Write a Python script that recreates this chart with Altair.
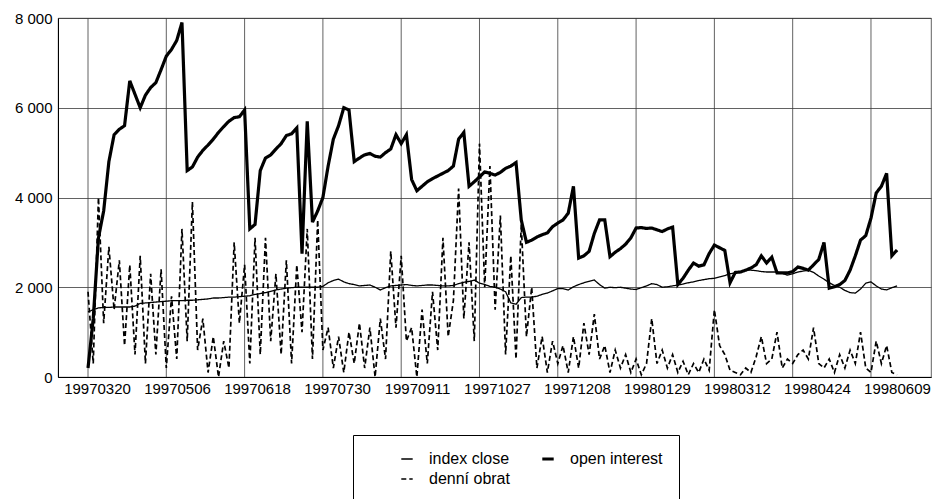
import altair as alt
import pandas as pd

# Trading-day axis labels (one every 30 trading days; samples are every 2nd day)
dates = ["19970320", "19970506", "19970618", "19970730", "19970911", "19971027",
         "19971208", "19980129", "19980312", "19980424", "19980609"]

index_close = [
    1450, 1500, 1540, 1550, 1550, 1560, 1560, 1560, 1560, 1580,
    1640, 1650, 1660, 1670, 1680, 1690, 1700, 1700, 1700, 1710,
    1710, 1720, 1730, 1740, 1760, 1760, 1770, 1780, 1780, 1790,
    1800, 1810, 1840, 1860, 1880, 1910, 1940, 1960, 1980, 1990,
    2000, 2000, 2000, 2000, 2000, 2020, 2100, 2150, 2180, 2120,
    2080, 2060, 2030, 2040, 2050, 2000, 1940, 1990, 2030, 2040,
    2050, 2060, 2040, 2030, 2040, 2050, 2050, 2040, 2030, 2030,
    2040, 2080, 2110, 2130, 2160, 2090, 2060, 2020, 2000, 1960,
    1900, 1650, 1620, 1770, 1780, 1780, 1800, 1840, 1870, 1920,
    1970, 1970, 1940, 2010, 2060, 2100, 2130, 2160, 2060, 1980,
    2000, 1990, 2000, 1980, 1960, 1950, 1990, 2030, 2080, 2060,
    2000, 2010, 2030, 2050, 2070, 2100, 2120, 2150, 2170, 2190,
    2200, 2230, 2260, 2300, 2320, 2340, 2380, 2380, 2370, 2350,
    2340, 2340, 2340, 2310, 2270, 2300, 2340, 2360, 2380, 2330,
    2250, 2180, 2100, 2040, 2000, 1930, 1880, 1870, 1960, 2090,
    2120, 2030, 1960, 1940, 1990, 2030,
]

open_interest = [
    200, 1300, 3100, 3700, 4800, 5400, 5520, 5600, 6600, 6300,
    6000, 6280, 6450, 6560, 6850, 7150, 7300, 7500, 7900, 4600,
    4680, 4900, 5050, 5170, 5300, 5450, 5580, 5700, 5780, 5800,
    5950, 3300, 3400, 4600, 4880, 4950, 5080, 5200, 5380, 5420,
    5550, 2750, 5700, 3450, 3700, 4000, 4700, 5300, 5600, 6000,
    5950, 4800, 4880, 4950, 4980, 4920, 4900, 5000, 5080, 5400,
    5200, 5400, 4400, 4150, 4250, 4350, 4420, 4480, 4540, 4600,
    4700, 5300, 5450, 4250, 4350, 4460, 4570, 4540, 4500, 4560,
    4650, 4700, 4780, 3500, 3000, 3050, 3120, 3170, 3210, 3350,
    3430, 3500, 3650, 4250, 2650, 2700, 2800, 3200, 3500, 3500,
    2680, 2780, 2860, 2960, 3100, 3320, 3330, 3310, 3320, 3280,
    3240, 3300, 3340, 2060, 2200, 2380, 2540, 2470, 2500, 2750,
    2940, 2880, 2820, 2100, 2330, 2340, 2380, 2430, 2500, 2700,
    2540, 2670, 2320, 2320, 2320, 2350, 2450, 2420, 2380, 2500,
    2620, 3000, 1980, 2010, 2060, 2150, 2380, 2700, 3050, 3150,
    3540, 4100, 4250, 4540, 2700, 2830,
]

denni_obrat = [
    1900, 300, 4000, 1200, 2900, 1500, 2600, 700, 2500, 500,
    2700, 300, 2300, 500, 2400, 200, 1800, 400, 3300, 800,
    3900, 600, 1300, 100, 900, 0, 800, 200, 3000, 1200,
    2500, 300, 3100, 500, 3100, 800, 2300, 500, 2600, 300,
    2500, 1000, 3300, 400, 3500, 600, 1100, 200, 900, 100,
    1000, 300, 1200, 200, 1100, 0, 1300, 400, 2800, 1100,
    2700, 800, 1100, 0, 1500, 300, 1900, 600, 3100, 900,
    1700, 4200, 1300, 3000, 800, 5200, 2000, 4700, 1500, 3600,
    500, 2700, 400, 3400, 900, 2000, 200, 900, 100, 800,
    300, 700, 100, 900, 200, 1200, 500, 1400, 400, 700,
    100, 600, 200, 500, 100, 400, 50, 300, 1300, 300,
    600, 200, 500, 100, 350, 50, 300, 100, 400, 150,
    1500, 700, 500, 150, 100, 50, 200, 100, 450, 900,
    300, 400, 1000, 200, 400, 300, 500, 600, 400, 1100,
    300, 200, 400, 100, 500, 200, 600, 300, 1000, 200,
    100, 800, 300, 700, 100, 50,
]

series_names = ["index close", "open interest", "denní obrat"]
series_values = [index_close, open_interest, denni_obrat]

rows = []
for name, vals in zip(series_names, series_values):
    for i, v in enumerate(vals):
        rows.append({"i": i, "value": v, "series": name})
df = pd.DataFrame(rows)

STEP = 15  # samples between date labels
grid_df = pd.DataFrame({"i": [k * STEP for k in range(len(dates))]})

# date labels sit a little to the right of their grid lines, drifting along the axis
label_pos = [(9 + 80 * k) / 5.22 for k in range(len(dates))]
label_expr = ("[" + ",".join(f"'{d}'" for d in dates) + "]"
              "[round((datum.value - 1.724) / 15.326)]")

FONT = "Liberation Sans"
GRID = "#3a3a3a"
x_scale = alt.Scale(domain=[-5.75, 161.5], nice=False, zero=False)
x_axis = alt.Axis(values=label_pos, labelExpr=label_expr, grid=False,
                  ticks=False, title=None, labelFontSize=15, labelPadding=4,
                  labelFont=FONT, labelColor="black", domainColor="black",
                  labelFlush=False, labelOverlap=False)

lines = alt.Chart(df).mark_line(interpolate="linear").encode(
    x=alt.X("i:Q", scale=x_scale, axis=x_axis),
    y=alt.Y("value:Q", scale=alt.Scale(domain=[0, 8000], nice=False),
            axis=alt.Axis(values=[0, 2000, 4000, 6000, 8000],
                          labelExpr="replace(format(datum.value, ','), ',', ' ')",
                          title=None, ticks=False, labelFontSize=15,
                          labelPadding=6, labelFont=FONT, labelColor="black",
                          grid=True, gridColor=GRID, gridWidth=0.8,
                          domainColor="black")),
    color=alt.Color("series:N",
                    scale=alt.Scale(domain=series_names,
                                    range=["black", "black", "black"]),
                    legend=alt.Legend(title=None)),
    strokeDash=alt.StrokeDash("series:N",
                              scale=alt.Scale(domain=series_names,
                                              range=[[1, 0], [1, 0], [5, 3]]),
                              legend=alt.Legend(title=None)),
    strokeWidth=alt.StrokeWidth("series:N",
                                scale=alt.Scale(type="ordinal",
                                                domain=series_names,
                                                range=[1.3, 3.2, 1.7]),
                                legend=alt.Legend(title=None)),
    detail="series:N",
)

vgrid = alt.Chart(grid_df).mark_rule(color=GRID, strokeWidth=0.8).encode(
    x=alt.X("i:Q", scale=x_scale, axis=x_axis),
)

chart = alt.layer(vgrid, lines).properties(
    width=873, height=359,
    padding={"left": 58, "top": 18, "right": 1, "bottom": 122},
    autosize=alt.AutoSizeParams(type="none"),
).configure_view(
    stroke=GRID, strokeWidth=0.8,
).configure_legend(
    orient="none", legendX=295, legendY=417, direction="horizontal",
    columns=2, strokeColor="black", padding=16, columnPadding=-8,
    rowPadding=4, symbolType="stroke", symbolSize=130, symbolOffset=30,
    labelFont=FONT, labelFontSize=16, labelColor="black", labelOffset=14,
    symbolStrokeColor="black",
)

chart.save("out.html", embed_options={"renderer": "svg", "actions": False})
